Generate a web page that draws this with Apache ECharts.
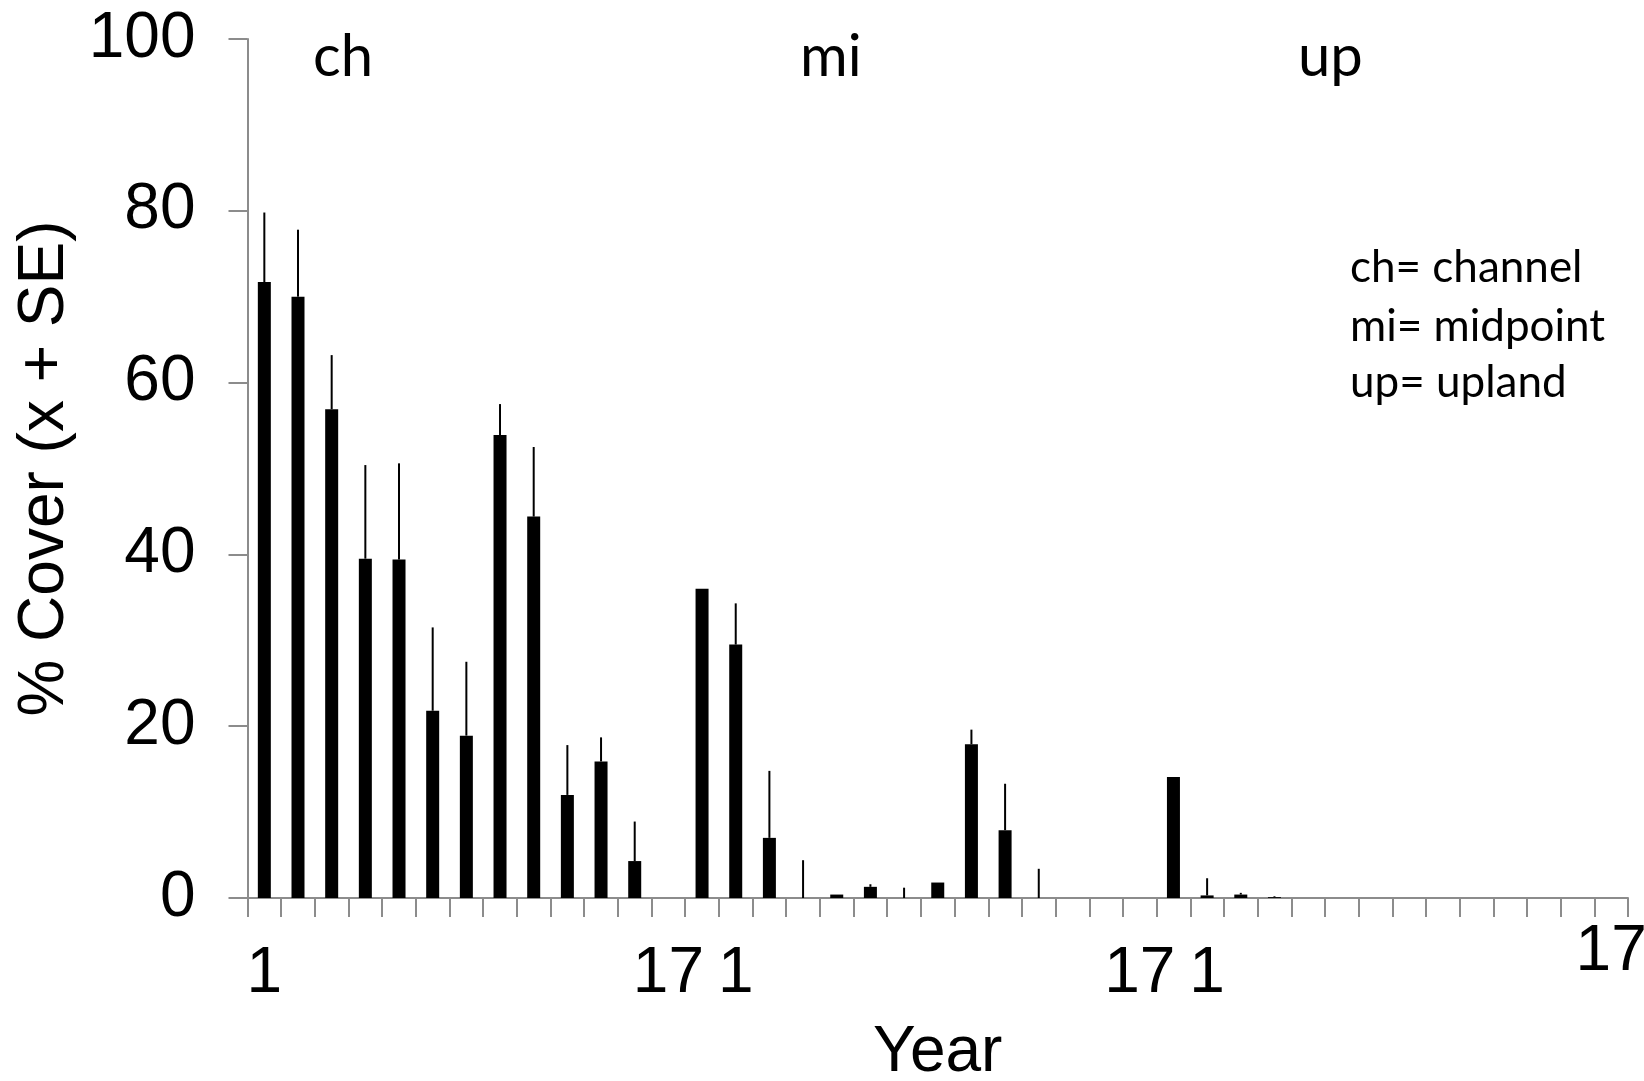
<!DOCTYPE html>
<html>
<head>
<meta charset="utf-8">
<script src="https://cdn.jsdelivr.net/npm/echarts@6/dist/echarts.min.js"></script>
<style>
html,body{margin:0;padding:0;background:#fff;overflow:hidden;}
#chart{width:1644px;height:1081px;}
</style>
</head>
<body>
<div id="chart"></div>
<script>
// 41 category slots along the Year axis (three site groups: ch, mi, up)
var categories = [];
for (var k = 1; k <= 41; k++) categories.push(String(k));

// tick labels shown under the axis (by slot)
var xTickLabels = ['1','','','','','','','','','','','','17','','1','','','','','','','','','','','','17','','1','','','','','','','','','','','','17'];

// mean % cover
var meanCover = [71.7, 70.0, 56.9, 39.5, 39.4, 21.8, 18.9, 53.9, 44.4, 12.0, 15.9, 4.3, 0,
                 36.0, 29.5, 7.0, 0, 0.4, 1.3, 0, 1.8, 17.9, 7.9, 0, 0, 0, 0,
                 14.1, 0.3, 0.4, 0.1, 0, 0, 0, 0, 0, 0, 0, 0, 0, 0];

// top of error bar (mean + SE); null = no error bar drawn
var upperSE = [79.8, 77.8, 63.2, 50.4, 50.6, 31.5, 27.5, 57.5, 52.5, 17.8, 18.7, 8.9, null,
               null, 34.3, 14.8, 4.4, null, 1.6, 1.2, null, 19.6, 13.3, 3.4, null, null, null,
               null, 2.3, 0.6, 0.2, null, null, null, null, null, null, null, null, null, null];

var yTicks = [0, 20, 40, 60, 80, 100];
var groupLabels = ['ch', 'mi', 'up'];
var legendLines = ['ch= channel', 'mi= midpoint', 'up= upland'];

var errData = [];
for (var i = 0; i < categories.length; i++) {
  if (upperSE[i] != null) errData.push([i, meanCover[i], upperSE[i]]);
}

var chart = echarts.init(document.getElementById('chart'));
var axisGray = '#8c8c8c';
var option = {
  animation: false,
  backgroundColor: '#fff',
  grid: { left: 247.5, right: 16, top: 39, bottom: 183, containLabel: false, outerBoundsMode: 'none' },
  xAxis: {
    type: 'category',
    data: categories,
    boundaryGap: true,
    name: 'Year',
    nameLocation: 'middle',
    nameGap: 123,
    nameTextStyle: { fontFamily: 'Liberation Sans, Arial', fontSize: 64, color: '#000' },
    axisLine: { lineStyle: { color: axisGray, width: 2 } },
    axisTick: { show: true, length: 19, interval: 0, lineStyle: { color: axisGray, width: 2 } },
    axisLabel: {
      interval: 0,
      margin: 22,
      hideOverlap: false,
      formatter: function (v, idx) {
        var t = xTickLabels[idx];
        if (!t) return '';
        return idx === categories.length - 1 ? '{hi|' + t + '}' : '{lo|' + t + '}';
      },
      rich: {
        lo: { fontFamily: 'Liberation Sans, Arial', fontSize: 64, color: '#000', padding: [22, 0, 0, 0] },
        hi: { fontFamily: 'Liberation Sans, Arial', fontSize: 64, color: '#000' }
      }
    },
    splitLine: { show: false }
  },
  yAxis: {
    type: 'value',
    min: yTicks[0],
    max: yTicks[yTicks.length - 1],
    interval: 20,
    name: '% Cover (x + SE)',
    nameLocation: 'middle',
    nameGap: 164,
    nameRotate: 90,
    nameTextStyle: { fontFamily: 'Liberation Sans, Arial', fontSize: 64, color: '#000' },
    axisLine: { show: true, lineStyle: { color: axisGray, width: 2 } },
    axisTick: { show: true, length: 19, lineStyle: { color: axisGray, width: 2 } },
    axisLabel: { margin: 52, fontFamily: 'Liberation Sans, Arial', fontSize: 64, color: '#000' },
    splitLine: { show: false }
  },
  series: [
    {
      type: 'bar',
      data: meanCover,
      barWidth: 13,
      itemStyle: { color: '#000' },
      z: 2
    },
    {
      type: 'custom',
      data: errData,
      encode: { x: 0, y: [1, 2] },
      z: 3,
      renderItem: function (params, api) {
        var p0 = api.coord([api.value(0), api.value(1)]);
        var p1 = api.coord([api.value(0), api.value(2)]);
        return {
          type: 'line',
          shape: { x1: p0[0], y1: p0[1], x2: p1[0], y2: p1[1] },
          style: { stroke: '#000', lineWidth: 2 }
        };
      }
    }
  ],
  graphic: [
    { type: 'text', left: 313, top: 28, style: { text: groupLabels[0], font: '58px Lato', fill: '#000' } },
    { type: 'text', left: 800, top: 28, style: { text: groupLabels[1], font: '58px Lato', fill: '#000' } },
    { type: 'text', left: 1298, top: 28, style: { text: groupLabels[2], font: '58px Lato', fill: '#000' } },
    { type: 'text', left: 1350, top: 246, style: { text: legendLines[0], font: '44px Lato', fill: '#000' } },
    { type: 'text', left: 1350, top: 305, style: { text: legendLines[1], font: '44px Lato', fill: '#000' } },
    { type: 'text', left: 1350, top: 361, style: { text: legendLines[2], font: '44px Lato', fill: '#000' } }
  ]
};
chart.setOption(option);
</script>
</body>
</html>
